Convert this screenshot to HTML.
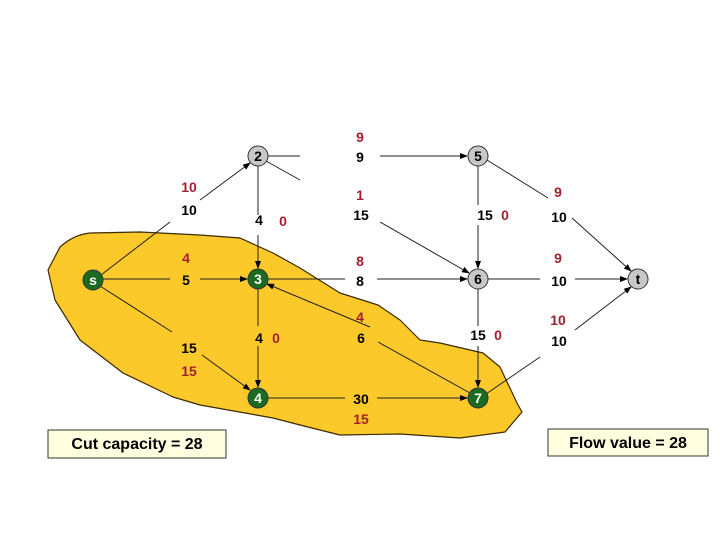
<!DOCTYPE html>
<html><head><meta charset="utf-8"><style>
html,body{margin:0;padding:0;background:#fff}
svg text{font-family:"Liberation Sans",sans-serif;font-weight:bold;font-size:14px}
.k{fill:#000}.r{fill:#a3202e}
</style></head><body>
<svg width="720" height="540" viewBox="0 0 720 540" xmlns="http://www.w3.org/2000/svg">
<defs><marker id="a" markerWidth="8" markerHeight="8" refX="7" refY="4" orient="auto" markerUnits="userSpaceOnUse"><path d="M0,1 L8,4 L0,7z" fill="#000"/></marker></defs>
<path d="M60,247 C70,238 80,234 90,233 L140,232 L200,235 L240,238 L273,253 L300,268 L340,293 L378,305 L400,320 L420,340 L440,343 L483,353 L500,367 L517,403 L522,412 L505,432 L460,438 L400,434 L340,435 L300,425 L273,418 L200,405 L173,397 L123,373 L80,340 L55,300 L48,270 Z" fill="#fcc92a" stroke="#3a2a00" stroke-width="1.2" stroke-linejoin="round"/>
<g stroke="#222" stroke-width="1" fill="none">
<line x1="268" y1="156" x2="300" y2="156"/><line x1="380" y1="156" x2="467" y2="156" marker-end="url(#a)"/>
<line x1="266" y1="161" x2="300" y2="180"/><line x1="380" y1="222" x2="469" y2="273" marker-end="url(#a)"/>
<line x1="258" y1="166" x2="258" y2="215"/><line x1="258" y1="235" x2="258" y2="268" marker-end="url(#a)"/>
<line x1="101" y1="275" x2="170" y2="222"/><line x1="200" y1="200" x2="250" y2="163" marker-end="url(#a)"/>
<line x1="103" y1="279" x2="170" y2="279"/><line x1="200" y1="279" x2="247" y2="279" marker-end="url(#a)"/>
<line x1="268" y1="279" x2="345" y2="279"/><line x1="377" y1="279" x2="467" y2="279" marker-end="url(#a)"/>
<line x1="100" y1="286" x2="172" y2="332"/><line x1="202" y1="355" x2="250" y2="390" marker-end="url(#a)"/>
<line x1="258" y1="289" x2="258" y2="326"/><line x1="258" y1="346" x2="258" y2="387" marker-end="url(#a)"/>
<line x1="268" y1="398" x2="345" y2="398"/><line x1="377" y1="398" x2="467" y2="398" marker-end="url(#a)"/>
<line x1="370" y1="327" x2="267" y2="284" marker-end="url(#a)"/><line x1="378" y1="342" x2="470" y2="393"/>
<line x1="478" y1="166" x2="478" y2="205"/><line x1="478" y1="225" x2="478" y2="268" marker-end="url(#a)"/>
<line x1="478" y1="289" x2="478" y2="326"/><line x1="478" y1="346" x2="478" y2="387" marker-end="url(#a)"/>
<line x1="487" y1="160" x2="548" y2="198"/><line x1="572" y1="218" x2="631" y2="271" marker-end="url(#a)"/>
<line x1="488" y1="279" x2="540" y2="279"/><line x1="575" y1="279" x2="627" y2="279" marker-end="url(#a)"/>
<line x1="486" y1="394" x2="540" y2="357"/><line x1="575" y1="330" x2="631" y2="287" marker-end="url(#a)"/>
</g>
<g stroke="#333" stroke-width="1">
<circle cx="258" cy="156" r="10" fill="#c8c8c8"/><circle cx="478" cy="156" r="10" fill="#c8c8c8"/>
<circle cx="478" cy="279" r="10" fill="#c8c8c8"/><circle cx="638" cy="279" r="10" fill="#c8c8c8"/>
<circle cx="93" cy="280" r="10" fill="#1a6b1f"/><circle cx="258" cy="279" r="10" fill="#1a6b1f"/>
<circle cx="258" cy="398" r="10" fill="#1a6b1f"/><circle cx="478" cy="398" r="10" fill="#1a6b1f"/>
</g>
<g text-anchor="middle" style="font-size:12px">
<text x="258" y="161" class="k">2</text><text x="478" y="161" class="k">5</text><text x="478" y="284" class="k">6</text><text x="638" y="284" class="k">t</text>
<text x="93" y="285" fill="#fff">s</text><text x="258" y="284" fill="#fff">3</text><text x="258" y="403" fill="#fff">4</text><text x="478" y="403" fill="#fff">7</text>
</g>
<g text-anchor="middle">
<text x="360" y="142" class="r">9</text><text x="360" y="162" class="k">9</text>
<text x="189" y="192" class="r">10</text><text x="189" y="215" class="k">10</text>
<text x="360" y="200" class="r">1</text><text x="361" y="220" class="k">15</text>
<text x="259" y="225" class="k">4</text><text x="283" y="226" class="r">0</text>
<text x="485" y="220" class="k">15</text><text x="505" y="220" class="r">0</text>
<text x="558" y="197" class="r">9</text><text x="559" y="222" class="k">10</text>
<text x="186" y="263" class="r">4</text><text x="186" y="285" class="k">5</text>
<text x="360" y="266" class="r">8</text><text x="360" y="286" class="k">8</text>
<text x="558" y="263" class="r">9</text><text x="559" y="286" class="k">10</text>
<text x="360" y="322" class="r">4</text><text x="361" y="343" class="k">6</text>
<text x="259" y="343" class="k">4</text><text x="276" y="343" class="r">0</text>
<text x="478" y="340" class="k">15</text><text x="498" y="340" class="r">0</text>
<text x="558" y="325" class="r">10</text><text x="559" y="346" class="k">10</text>
<text x="189" y="353" class="k">15</text><text x="189" y="376" class="r">15</text>
<text x="361" y="404" class="k">30</text><text x="361" y="424" class="r">15</text>
</g>
<rect x="48" y="430" width="178" height="28" fill="#ffffe0" stroke="#333" stroke-width="1"/>
<text x="137" y="449" text-anchor="middle" style="font-size:16px">Cut capacity = 28</text>
<rect x="548" y="429" width="160" height="27" fill="#ffffe0" stroke="#333" stroke-width="1"/>
<text x="628" y="448" text-anchor="middle" style="font-size:16px">Flow value = 28</text>
</svg>
</body></html>
